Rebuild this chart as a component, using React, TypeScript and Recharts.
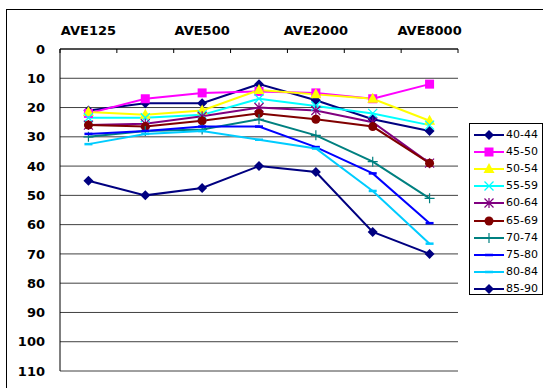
import React from 'react';
import { LineChart, Line, XAxis, YAxis, CartesianGrid, Legend } from 'recharts';

// frequency bands (top axis) and hearing level per age group
const freqs = ['AVE125', 'AVE250', 'AVE500', 'AVE1000', 'AVE2000', 'AVE4000', 'AVE8000'];
const age40_44 = [21, 18.5, 18.5, 12, 17.5, 24, 28];
const age45_50 = [22, 17, 15, 14.5, 15, 17, 12];
const age50_54 = [21.5, 22.5, 21, 14, 15.5, 17, 24.5];
const age55_59 = [23.5, 23.5, 22.5, 17, 19.5, 22, 26];
const age60_64 = [26, 25.5, 23, 20, 21, 25, 39];
const age65_69 = [26, 26.5, 24.5, 22, 24, 26.5, 39];
const age70_74 = [30, 28, 27.5, 24, 29.5, 38.5, 51];
const age75_80 = [29, 28, 26.5, 26.5, 33.5, 42.5, 59.5];
const age80_84 = [32.5, 29, 28, 31, 34, 48.5, 66.5];
const age85_90 = [45, 50, 47.5, 40, 42, 62.5, 70];
const yTicks = [0, 10, 20, 30, 40, 50, 60, 70, 80, 90, 100, 110];

type Shape = 'diamond' | 'square' | 'triangle' | 'cross' | 'star' | 'circle' | 'plus' | 'dash';

const series: { name: string; values: number[]; color: string; shape: Shape }[] = [
  { name: '40-44', values: age40_44, color: '#000080', shape: 'diamond' },
  { name: '45-50', values: age45_50, color: '#FF00FF', shape: 'square' },
  { name: '50-54', values: age50_54, color: '#FFFF00', shape: 'triangle' },
  { name: '55-59', values: age55_59, color: '#00FFFF', shape: 'cross' },
  { name: '60-64', values: age60_64, color: '#800080', shape: 'star' },
  { name: '65-69', values: age65_69, color: '#800000', shape: 'circle' },
  { name: '70-74', values: age70_74, color: '#008080', shape: 'plus' },
  { name: '75-80', values: age75_80, color: '#0000FF', shape: 'dash' },
  { name: '80-84', values: age80_84, color: '#00CCFF', shape: 'dash' },
  { name: '85-90', values: age85_90, color: '#000080', shape: 'diamond' },
];

const data = freqs.map((f, i) => {
  const row: Record<string, string | number> = { freq: f };
  series.forEach((s) => {
    row[s.name] = s.values[i];
  });
  return row;
});

const W = 543;
const H = 388;
const MARGIN = { top: 0, right: 85, bottom: 17, left: 0 };
const Y_W = 60;
const X_H = 49;
const BAND = (W - MARGIN.right - Y_W) / freqs.length;
const X_PAD = { left: BAND / 2, right: BAND / 2 };

function Marker({ cx, cy, shape, color }: { cx: number; cy: number; shape: Shape; color: string }) {
  switch (shape) {
    case 'diamond':
      return <polygon points={`${cx},${cy - 5} ${cx + 5},${cy} ${cx},${cy + 5} ${cx - 5},${cy}`} fill={color} />;
    case 'square':
      return <rect x={cx - 4.5} y={cy - 4.5} width={9} height={9} fill={color} />;
    case 'triangle':
      return <polygon points={`${cx},${cy - 6} ${cx + 5.5},${cy + 4} ${cx - 5.5},${cy + 4}`} fill={color} />;
    case 'cross':
      return (
        <path d={`M${cx - 4.5},${cy - 4.5}L${cx + 4.5},${cy + 4.5}M${cx + 4.5},${cy - 4.5}L${cx - 4.5},${cy + 4.5}`} stroke={color} strokeWidth={1.3} />
      );
    case 'star':
      return (
        <path
          d={`M${cx - 4.5},${cy - 4.5}L${cx + 4.5},${cy + 4.5}M${cx + 4.5},${cy - 4.5}L${cx - 4.5},${cy + 4.5}M${cx},${cy - 5}V${cy + 5}`}
          stroke={color}
          strokeWidth={1.2}
        />
      );
    case 'circle':
      return <circle cx={cx} cy={cy} r={4.5} fill={color} />;
    case 'plus':
      return <path d={`M${cx - 5},${cy}H${cx + 5}M${cx},${cy - 5}V${cy + 5}`} stroke={color} strokeWidth={1.2} />;
    case 'dash':
      return <path d={`M${cx - 4},${cy}H${cx + 4}`} stroke={color} strokeWidth={2.5} />;
    default:
      return null;
  }
}

function FreqTick(props: any) {
  const { x, y, index, payload } = props;
  const left = x - BAND / 2;
  return (
    <g>
      <line x1={left} x2={left} y1={y} y2={y + 4} stroke="#000" />
      {index === freqs.length - 1 && <line x1={x + BAND / 2} x2={x + BAND / 2} y1={y} y2={y + 4} stroke="#000" />}
      {index % 2 === 0 && (
        <text x={x} y={y - 14} textAnchor="middle" fontFamily="DejaVu Sans" fontWeight="bold" fontSize={13} fill="#000">
          {payload.value}
        </text>
      )}
    </g>
  );
}

const renderLegend = () => (
  <div
    style={{
      width: 74,
      height: 172,
      border: '1px solid #000',
      background: '#fff',
      boxSizing: 'border-box',
      padding: '2px 0 0 4px',
      fontFamily: 'DejaVu Sans',
      fontSize: 11,
      color: '#000',
    }}
  >
    {series.map((s) => (
      <div key={s.name} style={{ display: 'flex', alignItems: 'center', height: 17.2 }}>
        <svg width={30} height={12} style={{ display: 'block' }}>
          <line x1={0} x2={30} y1={6} y2={6} stroke={s.color} strokeWidth={2} />
          <Marker cx={15} cy={6} shape={s.shape} color={s.color} />
        </svg>
        <span style={{ marginLeft: 2, lineHeight: '12px' }}>{s.name}</span>
      </div>
    ))}
  </div>
);

export default function App() {
  return (
    <div style={{ position: 'fixed', left: 0, top: 0, width: W, height: H, background: '#fff', overflow: 'hidden' }}>
      <div style={{ position: 'absolute', left: 6, top: 9, width: 600, height: 420, border: '1px solid #000' }} />
      <div style={{ position: 'absolute', left: 0, top: 0 }}>
        <LineChart width={W} height={H} data={data} margin={MARGIN}>
          <CartesianGrid vertical={false} stroke="#404040" />
          <XAxis
            dataKey="freq"
            orientation="top"
            interval={0}
            height={X_H}
            padding={X_PAD}
            axisLine={{ stroke: '#000' }}
            tickLine={false}
            tickSize={0}
            tickMargin={0}
            tick={<FreqTick />}
          />
          <XAxis
            xAxisId="frame"
            dataKey="freq"
            orientation="bottom"
            height={0}
            padding={X_PAD}
            tick={false}
            tickLine={false}
            axisLine={{ stroke: '#a090c8', strokeWidth: 2 }}
          />
          <YAxis
            reversed
            domain={[0, 110]}
            ticks={yTicks}
            interval={0}
            width={Y_W}
            axisLine={{ stroke: '#000' }}
            tickLine={false}
            tickSize={0}
            tickMargin={15}
            tick={{ fontFamily: 'DejaVu Sans', fontWeight: 'bold', fontSize: 13, fill: '#000' }}
          />
          <YAxis
            yAxisId="frame"
            orientation="right"
            width={0}
            tick={false}
            tickLine={false}
            axisLine={{ stroke: '#c8b0f0' }}
          />
          <Legend
            layout="vertical"
            align="center"
            verticalAlign="middle"
            wrapperStyle={{ left: 469, top: 123, width: 74 }}
            content={renderLegend}
          />
          {series.map((s) => (
            <Line
              key={s.name}
              type="linear"
              dataKey={s.name}
              stroke={s.color}
              strokeWidth={2}
              isAnimationActive={false}
              activeDot={false}
              dot={(p: any) => <Marker key={`${s.name}-${p.index}`} cx={p.cx} cy={p.cy} shape={s.shape} color={s.color} />}
            />
          ))}
        </LineChart>
      </div>
    </div>
  );
}
